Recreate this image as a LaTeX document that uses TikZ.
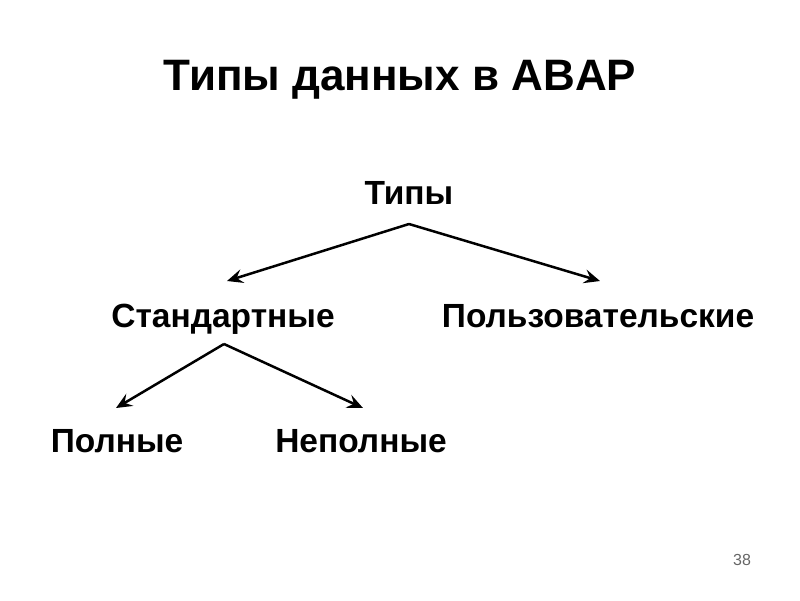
\documentclass[tikz,border=0pt]{standalone}
\usepackage{fontspec}
\setmainfont{Liberation Sans}
\usetikzlibrary{arrows.meta}
\begin{document}
\begin{tikzpicture}[x=1pt,y=-1pt,
  lbl/.style={font=\bfseries\fontsize{33.5}{38}\selectfont, inner sep=0pt, anchor=base},
  conn/.style={line width=2.5pt, -{Stealth[length=16pt,width=14pt,inset=6pt]}}]
\useasboundingbox (0,0) rectangle (800,600);
\node[lbl, font=\bfseries\fontsize{44}{50}\selectfont] (title) at (400,90) {Типы данных в ABAP};
\node[lbl] (types) at (409,204) {Типы};
\node[lbl] (std) at (223,327) {Стандартные};
\node[lbl] (user) at (598,327) {Пользовательские};
\node[lbl] (full) at (117,452) {Полные};
\node[lbl] (part) at (361,452) {Неполные};
\node[font=\fontsize{16}{18}\selectfont, text=black!60, inner sep=0pt] (page) at (742,560) {38};
\coordinate (t1) at (409,224);
\coordinate (t2) at (224,344);
\coordinate (a1) at (227,281);
\coordinate (a2) at (600,281);
\coordinate (b1) at (116,408);
\coordinate (b2) at (363,408);
\draw[conn] (t1) -- (a1);
\draw[conn] (t1) -- (a2);
\draw[conn] (t2) -- (b1);
\draw[conn] (t2) -- (b2);
\end{tikzpicture}
\end{document}
